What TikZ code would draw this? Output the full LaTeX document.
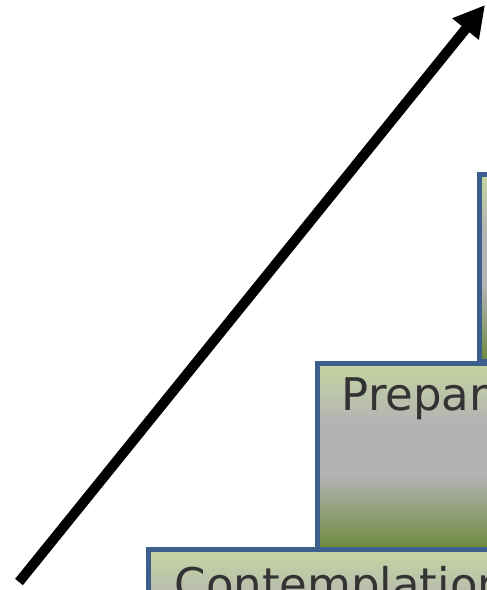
\documentclass[tikz,border=0pt]{standalone}
\usepackage{fontspec}
\setmainfont{DejaVu Sans}
\usetikzlibrary{arrows.meta}
\definecolor{boxborder}{HTML}{3C5F8D}
\definecolor{gtop}{HTML}{C5D5A0}
\definecolor{gmid}{HTML}{B3B3B3}
\definecolor{gbot}{HTML}{6C8A3C}
\definecolor{txt}{HTML}{333333}
\pgfdeclareverticalshading{stagegrad}{100bp}{color(0bp)=(gbot); color(25bp)=(gbot); color(45bp)=(gmid); color(59bp)=(gmid); color(75bp)=(gtop); color(100bp)=(gtop)}
\tikzset{
  stagebox/.style={draw=boxborder, line width=5pt, shading=stagegrad, anchor=north west, inner sep=0pt, outer sep=0pt},
  stagetext/.style={anchor=base west, inner sep=0pt, text=txt, font=\fontsize{45}{52}\selectfont},
  bigarrow/.style={line width=10pt, -{Triangle[length=31pt,width=32pt]}}
}
\begin{document}
\begin{tikzpicture}[x=1pt,y=-1pt]
\useasboundingbox (0,0) rectangle (487,590);
\clip (0,0) rectangle (487,590);
\node[stagebox, minimum width=300pt, minimum height=187pt] (action) at (479.5,174.5) {};
\node[stagebox, minimum width=400pt, minimum height=186pt] (prep) at (317.5,363.5) {};
\node[stagebox, minimum width=500pt, minimum height=186pt] (contemp) at (148.5,549.5) {};
\node[stagetext] (preptext) at (341.5,410.5) {Preparation};
\node[stagetext] (contemptext) at (174.5,600.8) {Contemplation};
\coordinate (tail) at (19,582);
\coordinate (tip) at (485,5);
\draw[bigarrow] (tail) -- (tip);
\end{tikzpicture}
\end{document}
